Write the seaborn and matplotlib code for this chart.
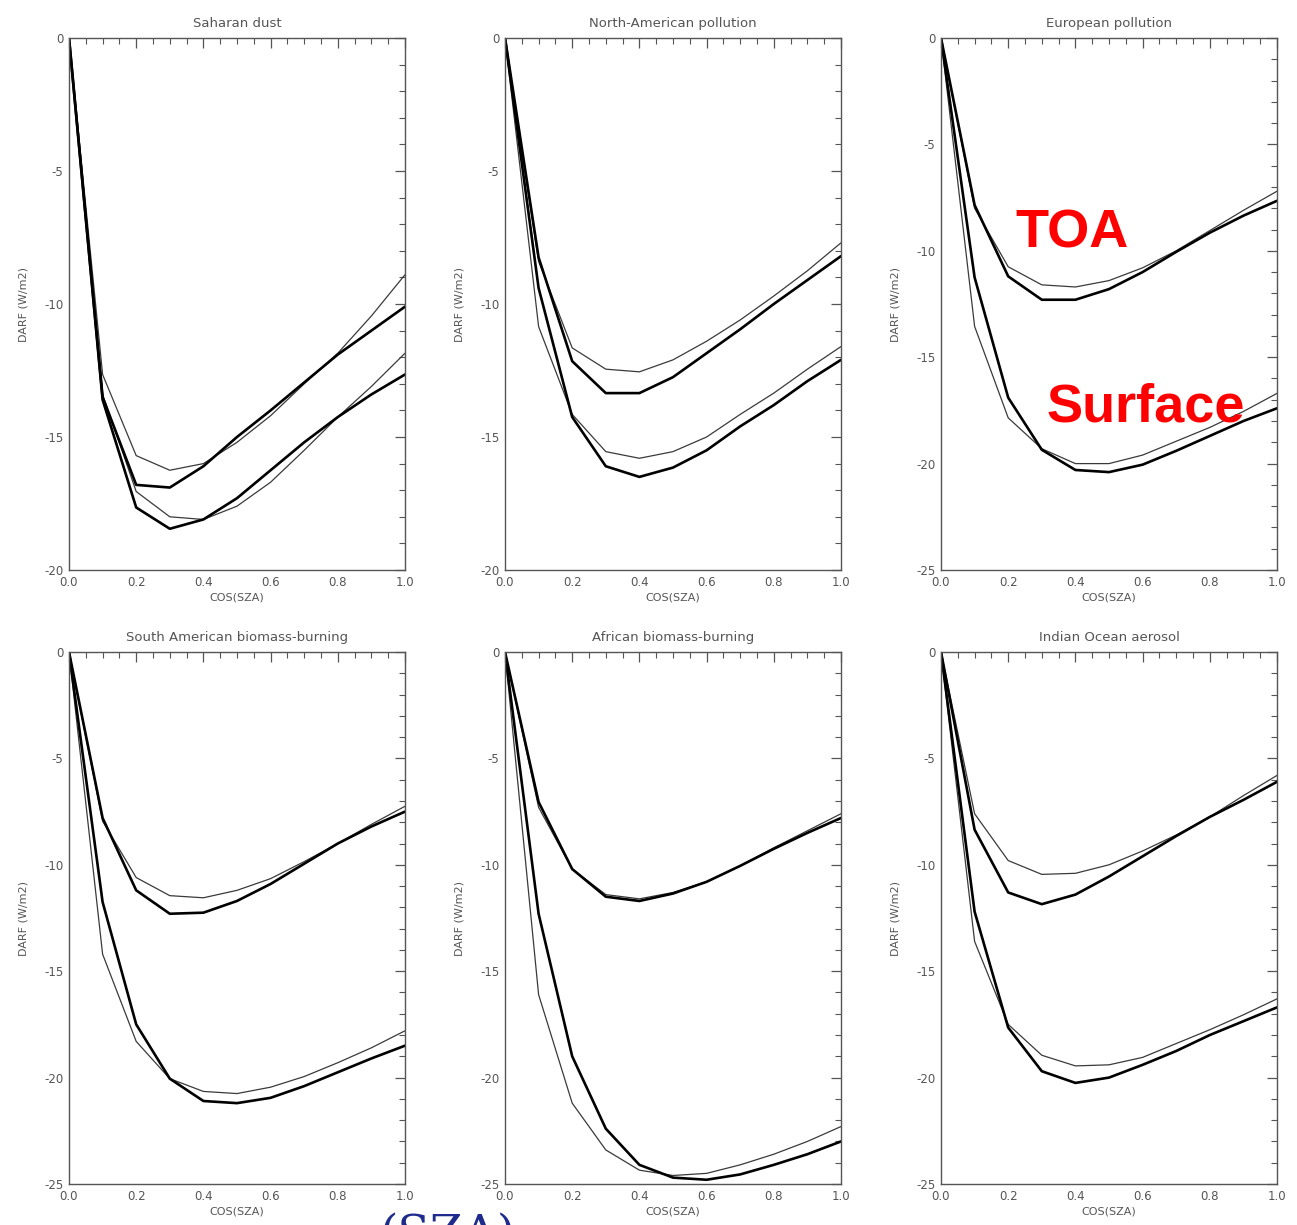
import matplotlib
matplotlib.use("Agg")
import matplotlib.pyplot as plt
import seaborn as sns
import numpy as np
from matplotlib.ticker import MultipleLocator, FormatStrFormatter

sns.set_style("white")
plt.rcParams['font.family'] = ['DejaVu Sans']
plt.rcParams['axes.unicode_minus'] = False

cos_sza = [0.0, 0.1, 0.2, 0.3, 0.4, 0.5, 0.6, 0.7, 0.8, 0.9, 1.0]

titles = ["Saharan dust", "North-American pollution", "European pollution",
          "South American biomass-burning", "African biomass-burning", "Indian Ocean aerosol"]
ylims = [-20, -20, -25, -25, -25, -25]

# Saharan dust
sah_toa_thick = [0, -13.5, -16.8, -16.9, -16.1, -15.0, -14.0, -12.95, -11.9, -11.0, -10.1]
sah_toa_thin = [0, -12.65, -15.7, -16.25, -16.0, -15.2, -14.2, -13.0, -11.85, -10.45, -8.9]
sah_sfc_thick = [0, -13.6, -17.65, -18.45, -18.1, -17.3, -16.25, -15.2, -14.25, -13.4, -12.65]
sah_sfc_thin = [0, -13.4, -17.05, -18.0, -18.1, -17.6, -16.7, -15.5, -14.25, -13.1, -11.85]
# North-American pollution
nam_toa_thick = [0, -8.25, -12.15, -13.35, -13.35, -12.75, -11.85, -10.95, -10.0, -9.1, -8.2]
nam_toa_thin = [0, -8.4, -11.65, -12.45, -12.55, -12.1, -11.4, -10.6, -9.7, -8.75, -7.7]
nam_sfc_thick = [0, -9.4, -14.25, -16.1, -16.5, -16.15, -15.5, -14.6, -13.8, -12.9, -12.1]
nam_sfc_thin = [0, -10.85, -14.15, -15.55, -15.8, -15.55, -15.0, -14.15, -13.35, -12.45, -11.6]
# European pollution
eur_toa_thick = [0, -7.85, -11.2, -12.3, -12.3, -11.8, -11.0, -10.05, -9.15, -8.35, -7.65]
eur_toa_thin = [0, -8.0, -10.75, -11.6, -11.7, -11.4, -10.8, -10.0, -9.05, -8.1, -7.2]
eur_sfc_thick = [0, -11.25, -16.9, -19.35, -20.3, -20.4, -20.05, -19.4, -18.7, -18.0, -17.4]
eur_sfc_thin = [0, -13.55, -17.85, -19.3, -20.0, -20.0, -19.6, -18.95, -18.3, -17.55, -16.7]
# South American biomass-burning
sam_toa_thick = [0, -7.8, -11.2, -12.3, -12.25, -11.7, -10.9, -9.95, -9.0, -8.2, -7.5]
sam_toa_thin = [0, -7.95, -10.6, -11.45, -11.55, -11.2, -10.65, -9.85, -9.0, -8.1, -7.25]
sam_sfc_thick = [0, -11.75, -17.5, -20.05, -21.1, -21.2, -20.95, -20.4, -19.75, -19.1, -18.5]
sam_sfc_thin = [0, -14.2, -18.3, -20.05, -20.65, -20.75, -20.45, -19.95, -19.3, -18.6, -17.8]
# African biomass-burning
afr_toa_thick = [0, -7.05, -10.2, -11.5, -11.7, -11.35, -10.8, -10.05, -9.25, -8.5, -7.8]
afr_toa_thin = [0, -7.3, -10.2, -11.4, -11.6, -11.3, -10.8, -10.05, -9.2, -8.4, -7.6]
afr_sfc_thick = [0, -12.3, -19.0, -22.4, -24.1, -24.7, -24.8, -24.55, -24.1, -23.6, -23.0]
afr_sfc_thin = [0, -16.1, -21.2, -23.4, -24.35, -24.6, -24.5, -24.1, -23.6, -23.0, -22.3]
# Indian Ocean aerosol
ind_toa_thick = [0, -8.35, -11.3, -11.85, -11.4, -10.55, -9.6, -8.65, -7.75, -6.95, -6.1]
ind_toa_thin = [0, -7.6, -9.8, -10.45, -10.4, -10.0, -9.35, -8.6, -7.75, -6.75, -5.8]
ind_sfc_thick = [0, -12.2, -17.65, -19.7, -20.25, -20.0, -19.4, -18.75, -18.0, -17.35, -16.7]
ind_sfc_thin = [0, -13.6, -17.5, -18.95, -19.45, -19.4, -19.05, -18.4, -17.75, -17.05, -16.3]

panels = [
    (sah_toa_thick, sah_toa_thin, sah_sfc_thick, sah_sfc_thin),
    (nam_toa_thick, nam_toa_thin, nam_sfc_thick, nam_sfc_thin),
    (eur_toa_thick, eur_toa_thin, eur_sfc_thick, eur_sfc_thin),
    (sam_toa_thick, sam_toa_thin, sam_sfc_thick, sam_sfc_thin),
    (afr_toa_thick, afr_toa_thin, afr_sfc_thick, afr_sfc_thin),
    (ind_toa_thick, ind_toa_thin, ind_sfc_thick, ind_sfc_thin),
]

W, H = 1297, 1225
fig = plt.figure(figsize=(W / 100, H / 100), dpi=100)

lefts = [69, 505, 941]
tops = [38, 652]
aw, ah = 336, 532
gray = "#555555"

for i, (tt, tn, st, sn) in enumerate(panels):
    r, c = divmod(i, 3)
    ax = fig.add_axes([lefts[c] / W, 1 - (tops[r] + ah) / H, aw / W, ah / H])
    for ys, lw, col in [(tn, 0.9, "#3a3a3a"), (sn, 0.9, "#3a3a3a"),
                        (tt, 1.9, "black"), (st, 1.9, "black")]:
        sns.lineplot(x=cos_sza, y=ys, ax=ax, color=col, linewidth=lw,
                     estimator=None, sort=False)
    ax.set_xlim(0, 1)
    ax.set_ylim(ylims[i], 0)
    ax.xaxis.set_major_locator(MultipleLocator(0.2))
    ax.xaxis.set_minor_locator(MultipleLocator(0.05))
    ax.yaxis.set_major_locator(MultipleLocator(5))
    ax.yaxis.set_minor_locator(MultipleLocator(1))
    ax.xaxis.set_major_formatter(FormatStrFormatter('%.1f'))
    ax.yaxis.set_major_formatter(FormatStrFormatter('%d'))
    ax.tick_params(which='both', direction='in', top=True, right=True,
                   color=gray, labelcolor=gray, labelsize=8.5)
    ax.tick_params(which='major', length=7, width=0.9, pad=4)
    ax.tick_params(which='minor', length=4, width=0.8)
    for s in ax.spines.values():
        s.set_color(gray)
        s.set_linewidth(1.0)
        s.set_visible(True)
    ax.set_title(titles[i], fontsize=9.5, color=gray, pad=8)
    ax.set_xlabel("COS(SZA)", fontsize=8, color=gray, labelpad=3)
    ax.set_ylabel("DARF (W/m2)", fontsize=8, color=gray, labelpad=11)
    if i == 2:
        ax.text(0.39, -9.2, "TOA", color="#ff0000", fontsize=39, fontweight="bold",
                family="Liberation Sans", ha="center", va="center")
        ax.text(0.61, -17.35, "Surface", color="#ff0000", fontsize=39, fontweight="bold",
                family="Liberation Sans", ha="center", va="center")

fig.text(447 / W, 1 - 1212 / H, "(SZA)", color="#1f2b8c", fontsize=34,
         family="DejaVu Serif", ha="center", va="top")

fig.savefig("out.png", dpi=100, facecolor="white")
